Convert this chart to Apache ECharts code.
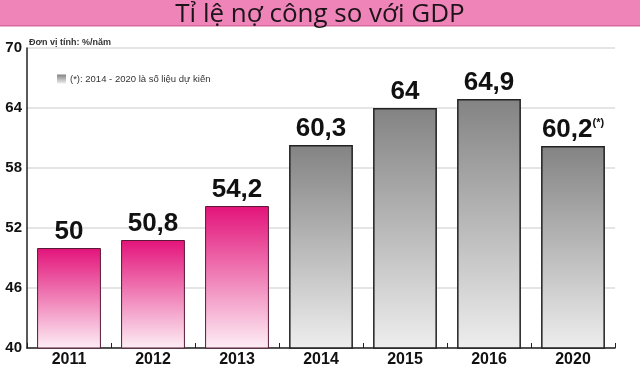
<!DOCTYPE html>
<html><head><meta charset="utf-8">
<script src="https://cdn.jsdelivr.net/npm/echarts@6/dist/echarts.min.js"></script>
<style>html,body{margin:0;padding:0;background:#fff}#c{width:640px;height:373px}</style>
</head><body><div id="c"></div>
<script>
const title = 'Tỉ lệ nợ công so với GDP';
const unitText = 'Đơn vị tính: %/năm';
const legendText = '(*): 2014 - 2020 là số liệu dự kiến';
const years = ['2011','2012','2013','2014','2015','2016','2020'];
const actual = [50, 50.8, 54.2, '-', '-', '-', '-'];
const forecast = ['-', '-', '-', 60.3, 64, 64.9, 60.2];
const notes = ['', '', '', '', '', '', '(*)'];
const yTicks = [40, 46, 52, 58, 64, 70];

const chart = echarts.init(document.getElementById('c'));
const fmt = p => {
  const s = String(p.value).replace('.', ',');
  const n = notes[p.dataIndex];
  return n ? '{v|' + s + '}{s|' + n + '}' : '{v|' + s + '}';
};
const labelCfg = {
  show: true, position: 'top', distance: 3, formatter: fmt,
  rich: {
    v: { fontFamily: 'Liberation Sans', fontWeight: 'bold', fontSize: 26, color: '#111' },
    s: { fontFamily: 'Liberation Sans', fontWeight: 'bold', fontSize: 11, color: '#111', verticalAlign: 'top', padding: [0,0,12,0] }
  }
};
chart.setOption({
  animation: false,
  graphic: [
    { type: 'rect', shape: { x: 0, y: 0, width: 640, height: 26 }, style: { fill: '#ee84b8' } },
    { type: 'rect', shape: { x: 0, y: 25, width: 640, height: 1.5 }, style: { fill: '#d86a9e' } },
    { type: 'text', x: 320, y: 15, style: { text: title, font: '26px "Open Sans"', fill: '#1c1418', align: 'center', verticalAlign: 'middle' } },
    { type: 'text', left: 29, top: 38, style: { text: unitText, font: 'bold 9px "Liberation Sans"', fill: '#333' } }
  ],
  legend: {
    left: 52, top: 69, itemWidth: 9, itemHeight: 9, itemGap: 4, icon: 'rect',
    itemStyle: { borderWidth: 0 },
    data: [legendText],
    textStyle: { fontFamily: 'Liberation Sans', fontSize: 9.5, color: '#333', padding: [0,0,0,-1] }
  },
  grid: { left: 27, right: 25, top: 48, bottom: 25 },
  xAxis: {
    type: 'category', data: years,
    axisLine: { lineStyle: { color: '#222', width: 1.5 } },
    axisTick: { show: true, inside: true, length: 5, lineStyle: { color: '#222' } },
    axisLabel: { fontFamily: 'Liberation Sans', fontWeight: 'bold', fontSize: 16, color: '#111', margin: 4 }
  },
  yAxis: {
    type: 'value', min: 40, max: 70, interval: 6,
    axisLine: { show: true, lineStyle: { color: '#222', width: 1.5 } },
    axisTick: { show: false },
    splitLine: { lineStyle: { color: '#ddd', width: 1.5 } },
    axisLabel: { fontFamily: 'Liberation Sans', fontWeight: 'bold', fontSize: 15, color: '#111', margin: 5,
      formatter: v => yTicks.includes(v) ? String(v) : '' }
  },
  series: [
    { type: 'bar', name: 'actual', data: actual, barWidth: '76%', barGap: '-100%',
      itemStyle: { borderColor: '#5a1a36', borderWidth: 1,
        color: new echarts.graphic.LinearGradient(0,0,0,1,[{offset:0,color:'#e3137a'},{offset:1,color:'#fdeef5'}]) },
      label: labelCfg },
    { type: 'bar', name: legendText, data: forecast, barWidth: '76%', barGap: '-100%',
      itemStyle: { borderColor: '#222', borderWidth: 1.5,
        color: new echarts.graphic.LinearGradient(0,0,0,1,[{offset:0,color:'#838383'},{offset:1,color:'#eeeeee'}]) },
      label: labelCfg }
  ]
});
</script></body></html>
